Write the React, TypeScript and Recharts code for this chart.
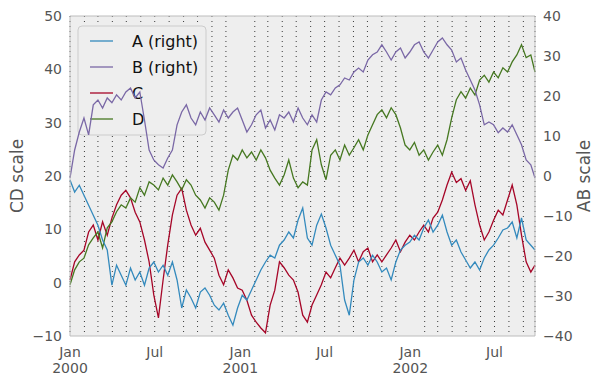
import React from 'react';
import { LineChart, Line, XAxis, YAxis, CartesianGrid, ReferenceArea, ReferenceLine } from 'recharts';

// Samples every 10 days from 2000-01-01 (last sample = day 999, 2002-09-26)
const STEP_DAYS = 10;
const LAST_DAY = 999;

// A (right axis, AB scale)
const seriesA = [
  -1.0, -4.0, -2.3, -4.8, -7.3, -9.8, -12.3, -16.0, -18.5, -27.3,
  -22.3, -24.8, -27.3, -23.0, -26.0, -24.0, -27.3, -23.0, -21.5, -24.0,
  -22.3, -24.8, -21.5, -26.0, -33.0, -28.5, -30.5, -33.0, -29.0, -28.0,
  -29.8, -32.3, -33.5, -31.8, -34.8, -37.3, -33.0, -29.8, -31.0, -28.5,
  -26.0, -23.5, -21.5, -19.8, -20.5, -17.3, -16.0, -14.0, -15.5, -11.0,
  -8.0, -15.5, -17.3, -12.3, -9.5, -13.0, -17.3, -19.8, -22.3, -31.0,
  -34.8, -26.0, -21.5, -20.5, -22.3, -19.8, -21.5, -24.0, -23.0, -26.0,
  -21.5, -18.5, -17.3, -16.5, -14.8, -16.0, -13.0, -11.0, -14.0, -12.3,
  -9.8, -14.0, -17.3, -16.0, -19.0, -21.0, -23.0, -21.5, -23.5, -20.5,
  -18.5, -17.3, -15.5, -13.5, -13.0, -11.5, -15.5, -10.5, -16.0, -17.3,
  -18.5,
];

// B (right axis, AB scale)
const seriesB = [
  -0.5, 6.5, 11.0, 14.5, 10.3, 17.8, 19.0, 17.0, 19.5, 18.3,
  20.3, 19.0, 21.0, 22.0, 19.5, 21.0, 14.0, 6.5, 4.0, 2.8,
  2.0, 4.5, 6.5, 12.8, 16.0, 17.8, 14.5, 12.8, 16.0, 14.0,
  17.0, 15.3, 13.5, 16.5, 14.5, 16.0, 17.0, 14.0, 11.0, 12.8,
  15.3, 16.5, 12.0, 14.0, 11.5, 15.3, 14.5, 16.0, 13.5, 17.0,
  14.5, 12.8, 15.3, 13.5, 19.0, 21.0, 20.3, 22.0, 22.8, 24.5,
  24.0, 26.0, 27.0, 26.0, 29.0, 30.3, 31.0, 32.8, 31.0, 29.0,
  31.0, 32.0, 29.5, 31.0, 32.8, 33.5, 31.0, 29.5, 31.5, 33.5,
  34.5, 32.8, 31.5, 28.5, 29.5, 26.5, 24.0, 21.5, 17.8, 12.8,
  13.5, 12.8, 10.8, 12.0, 11.0, 12.8, 10.3, 7.8, 4.0, 2.8,
  -0.5,
];

// C (left axis, CD scale)
const seriesC = [
  0.5, 3.9, 5.2, 6.1, 9.5, 10.8, 8.0, 11.4, 8.9, 12.1,
  14.6, 16.4, 17.3, 15.9, 13.2, 11.4, 8.0, 3.9, -2.3, -6.6,
  0.5, 7.1, 12.7, 16.4, 17.7, 13.6, 10.8, 8.9, 10.2, 7.6,
  6.1, 4.6, 1.4, -0.4, 2.4, 0.9, -1.0, -1.4, -3.3, -6.1,
  -7.4, -8.5, -9.4, -4.2, -1.4, 3.9, 2.8, 1.4, 0.5, -1.8,
  -6.1, -7.4, -4.2, -2.3, -0.4, 2.0, 0.9, 2.8, 4.6, 3.3,
  4.6, 6.1, 3.9, 5.8, 6.5, 3.9, 5.2, 3.9, 5.2, 6.5,
  8.0, 5.8, 7.6, 8.9, 8.0, 9.5, 10.8, 9.5, 12.1, 13.2,
  15.5, 18.3, 20.7, 18.8, 19.5, 17.3, 19.1, 14.6, 10.8, 8.0,
  9.5, 11.7, 13.6, 12.7, 15.5, 18.3, 14.6, 8.9, 3.9, 2.0,
  3.3,
];

// D (left axis, CD scale)
const seriesD = [
  -0.4, 2.4, 3.9, 4.6, 7.1, 8.4, 9.5, 6.5, 10.3, 11.4,
  13.3, 14.6, 14.0, 15.9, 15.1, 17.8, 16.4, 18.9, 18.3, 17.4,
  19.6, 18.3, 20.2, 18.9, 17.4, 19.3, 18.3, 16.4, 15.5, 14.0,
  15.9, 15.1, 13.6, 16.4, 21.1, 23.9, 23.0, 24.9, 23.4, 24.5,
  23.0, 24.9, 23.4, 21.1, 19.6, 18.3, 20.2, 23.0, 19.6, 17.8,
  18.9, 18.3, 24.9, 26.8, 22.1, 19.3, 23.9, 24.9, 23.0, 25.8,
  23.9, 25.3, 26.8, 24.9, 27.7, 29.6, 31.5, 32.4, 30.9, 32.8,
  31.5, 29.0, 25.8, 24.9, 26.3, 23.9, 24.9, 23.0, 24.5, 25.8,
  23.9, 26.8, 30.9, 34.3, 35.8, 34.6, 36.5, 35.2, 38.0, 38.9,
  37.6, 39.5, 38.4, 40.3, 39.5, 41.4, 42.7, 44.6, 42.2, 42.7,
  39.5,
];

// Tick days (days since 2000-01-01) and labels
const majorTicks = [0, 182, 366, 547, 731, 912];
const majorLabels = [['Jan', '2000'], ['Jul'], ['Jan', '2001'], ['Jul'], ['Jan', '2002'], ['Jul']];
const leftTicks = [-10, 0, 10, 20, 30, 40, 50];
const rightTicks = [-40, -30, -20, -10, 0, 10, 20, 30, 40];

const legendItems = [
  { name: 'A (right)', color: '#348ABD' },
  { name: 'B (right)', color: '#7A68A6' },
  { name: 'C', color: '#A60628' },
  { name: 'D', color: '#467821' },
];

const DAY_MS = 86400000;
const START = Date.UTC(2000, 0, 1);
const monthTicks: number[] = [];
for (let y = 2000; y <= 2002; y++) {
  for (let m = 1; m < 12; m++) {
    const d = Math.round((Date.UTC(y, m, 1) - START) / DAY_MS);
    if (d <= LAST_DAY) monthTicks.push(d);
  }
}

const data = seriesA.map((a, i) => ({
  t: i === seriesA.length - 1 ? LAST_DAY : i * STEP_DAYS,
  A: a,
  B: seriesB[i],
  C: seriesC[i],
  D: seriesD[i],
}));

const FONT = 'DejaVu Sans, sans-serif';
const minus = (v: number) => String(v).replace('-', '\u2212');

const XTick = (props: any) => {
  const { x, y, payload } = props;
  const idx = majorTicks.indexOf(payload.value);
  const lines = idx >= 0 ? majorLabels[idx] : [];
  return (
    <text x={x} y={y} textAnchor="middle" fill="#555555" fontSize={14} fontFamily={FONT}>
      {lines.map((s, i) => (
        <tspan key={i} x={x} y={y + 21 + i * 16}>{s}</tspan>
      ))}
    </text>
  );
};

const LegendShape = (p: any) => {
  const x0 = p.x + 8;
  const y0 = p.y + 10;
  return (
    <g>
      <rect x={x0} y={y0} width={128} height={109} rx={4} ry={4} fill="#eeeeee" stroke="#cccccc" strokeWidth={1} />
      {legendItems.map((it, i) => {
        const cy = y0 + 15 + i * 26;
        return (
          <g key={it.name}>
            <line x1={x0 + 12} x2={x0 + 35} y1={cy} y2={cy} stroke={it.color} strokeWidth={1.3} />
            <text x={x0 + 54} y={cy} dy="0.36em" fontSize={16} fontFamily={FONT} fill="#111111">{it.name}</text>
          </g>
        );
      })}
    </g>
  );
};

const axisLabel = (text: string, dx: number) => (props: any) => {
  const vb = props.viewBox || {};
  const x = vb.x + dx;
  const y = vb.y + vb.height / 2;
  return (
    <text x={x} y={y} transform={`rotate(-90, ${x}, ${y})`} textAnchor="middle" dominantBaseline="central"
      fontSize={17} fontFamily={FONT} fill="#555555">{text}</text>
  );
};

export default function App() {
  return (
    <div style={{ position: 'absolute', left: 0, top: 0, background: '#ffffff' }}>
      <LineChart width={605} height={385} data={data} margin={{ top: 16, right: 0, bottom: 0, left: 0 }}>
        <XAxis xAxisId="grid" orientation="top" type="number" dataKey="t" domain={[0, LAST_DAY]} ticks={monthTicks}
          interval={0} height={0} hide />
        <CartesianGrid xAxisId="grid" yAxisId="left" horizontal={false} vertical={true} fill="#eeeeee"
          stroke="#3a3a3a" strokeWidth={1} strokeDasharray="1 4" />
        <XAxis xAxisId="main" type="number" dataKey="t" domain={[0, LAST_DAY]} ticks={majorTicks}
          height={49} tickLine={false} tickSize={0} tickMargin={0} tick={<XTick />} axisLine={{ stroke: '#bcbcbc' }} interval={0} />
        <YAxis yAxisId="left" domain={[-10, 50]} ticks={leftTicks} width={70} tickLine={false} tickSize={0}
          tickMargin={8} tickFormatter={minus} axisLine={{ stroke: '#bcbcbc' }}
          tick={{ fill: '#555555', fontSize: 14, fontFamily: FONT }} label={{ content: axisLabel('CD scale', 17) }} />
        <YAxis yAxisId="right" orientation="right" domain={[-40, 40]} ticks={rightTicks} width={70} tickLine={false}
          tickSize={0} tickMargin={8} tickFormatter={minus} axisLine={{ stroke: '#bcbcbc' }}
          tick={{ fill: '#555555', fontSize: 14, fontFamily: FONT }} label={{ content: axisLabel('AB scale', 49) }} />
        <ReferenceLine xAxisId="main" yAxisId="left" y={50} stroke="#bcbcbc" />
        <ReferenceArea xAxisId="main" yAxisId="left" x1={0} x2={LAST_DAY} y1={-10} y2={50} shape={LegendShape} />
        <Line xAxisId="main" yAxisId="left" dataKey="C" stroke="#A60628" strokeWidth={1.3} dot={false} isAnimationActive={false} />
        <Line xAxisId="main" yAxisId="left" dataKey="D" stroke="#467821" strokeWidth={1.3} dot={false} isAnimationActive={false} />
        <Line xAxisId="main" yAxisId="right" dataKey="A" stroke="#348ABD" strokeWidth={1.3} dot={false} isAnimationActive={false} />
        <Line xAxisId="main" yAxisId="right" dataKey="B" stroke="#7A68A6" strokeWidth={1.3} dot={false} isAnimationActive={false} />
      </LineChart>
    </div>
  );
}
